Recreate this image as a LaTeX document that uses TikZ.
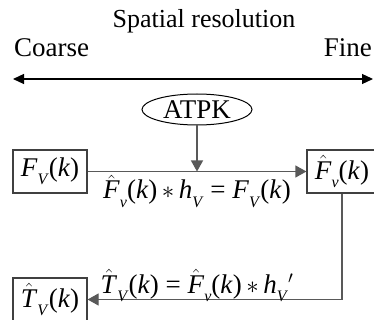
\documentclass[tikz,border=0pt]{standalone}
\usepackage{fontspec}
\setmainfont{Liberation Serif}
\usetikzlibrary{arrows.meta,shapes.geometric}
\newcommand{\vi}[1]{\textit{#1}}
\newcommand{\sbs}[1]{\raisebox{-0.3em}{\fontsize{16}{16}\selectfont\textit{#1}}}
\newcommand{\hatit}[1]{$\hat{\mbox{\textit{#1}}}$}
\tikzset{
  txt/.style={font=\fontsize{27}{31}\selectfont, inner sep=0pt},
  box/.style={draw=black!75, line width=1.2pt, minimum height=43pt, inner sep=0pt, font=\fontsize{27}{31}\selectfont},
  arr/.style={draw=black!65, line width=1.2pt, -{Triangle[length=11pt,width=12pt]}},
  darr/.style={draw=black, line width=1.2pt, {Triangle[length=11pt,width=10pt]}-{Triangle[length=11pt,width=10pt]}}
}
\begin{document}
\begin{tikzpicture}[x=1pt,y=-1pt]
\useasboundingbox (0,0) rectangle (374,320);
\node[txt, font=\fontsize{26}{30}\selectfont, anchor=base] (title) at (204,28) {Spatial resolution};
\node[txt, anchor=base west] (coarse) at (14,57) {Coarse};
\node[txt, anchor=base east] (fine) at (372,57) {Fine};
\coordinate (L) at (13,79);
\coordinate (R) at (373,79);
\draw[darr] (L) -- (R);
\node[ellipse, draw=black, line width=1pt, minimum width=110pt, minimum height=31pt, inner sep=0pt, font=\fontsize{27}{31}\selectfont] (atpk) at (197,109.5) {ATPK};
\node[box, minimum width=74pt] (b1) at (50,171.5) {\vi{F}\sbs{V}(\vi{k})};
\node[box, minimum width=70pt] (b2) at (342,171.5) {\hatit{F}\sbs{v}(\vi{k})};
\node[box, minimum width=74pt] (b3) at (50,299.5) {\hatit{T}\sbs{V}(\vi{k})};
\draw[arr] (b1.east) -- (b2.west);
\coordinate (m) at (atpk.south |- b1.east);
\draw[arr] (atpk.south) -- (m);
\draw[arr] (b2.south) |- (b3.east);
\node[txt, anchor=base] (l1) at (197,199) {\hatit{F}\sbs{v}(\vi{k})\,$*$\,\vi{h}\sbs{V} = \vi{F}\sbs{V}(\vi{k})};
\node[txt, anchor=base] (l2) at (197,293) {\hatit{T}\sbs{V}(\vi{k}) = \hatit{F}\sbs{v}(\vi{k})\,$*$\,\vi{h}\sbs{V}$'$};
\end{tikzpicture}
\end{document}
